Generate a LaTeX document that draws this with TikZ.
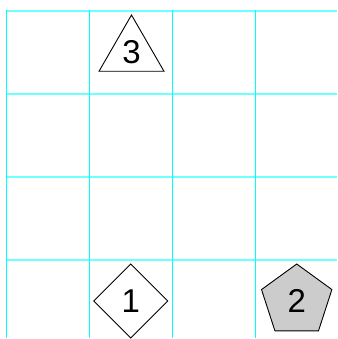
\documentclass[tikz,border=0pt]{standalone}
\usepackage{fontspec}
\setmainfont{Liberation Sans}
\usetikzlibrary{shapes.geometric}
\definecolor{gridcyan}{RGB}{0,255,255}
\definecolor{gridcyanlight}{RGB}{110,255,255}
\definecolor{shapegray}{RGB}{204,204,204}
\begin{document}
\begin{tikzpicture}[x=1pt,y=-1pt,
  gridline/.style={draw=gridcyanlight, line width=1.6pt},
  vgridline/.style={draw=gridcyan, line width=1.2pt},
  shapebox/.style={draw=black, line width=0.9pt, inner sep=0pt, outer sep=0pt,
    font=\fontsize{33}{40}\selectfont, minimum size=75pt}]
\useasboundingbox (0,0) rectangle (337,339);
\fill[white] (0,0) rectangle (337,339);
% grid
\foreach \y in {11,94,177,260} \draw[gridline] (6.5,\y) -- (337,\y);
\foreach \x in {6.5,89.5,172.5,255.5} \draw[vgridline] (\x,10.5) -- (\x,338);
% shapes
\node[shapebox, regular polygon, regular polygon sides=3] (three) at (131.5,52.5) {3};
\node[shapebox, regular polygon, regular polygon sides=4, regular polygon rotate=45, minimum size=74pt] (one) at (130.8,301) {1};
\node[shapebox, regular polygon, regular polygon sides=5, fill=shapegray, minimum size=74pt] (two) at (296.7,301) {2};
\end{tikzpicture}
\end{document}
